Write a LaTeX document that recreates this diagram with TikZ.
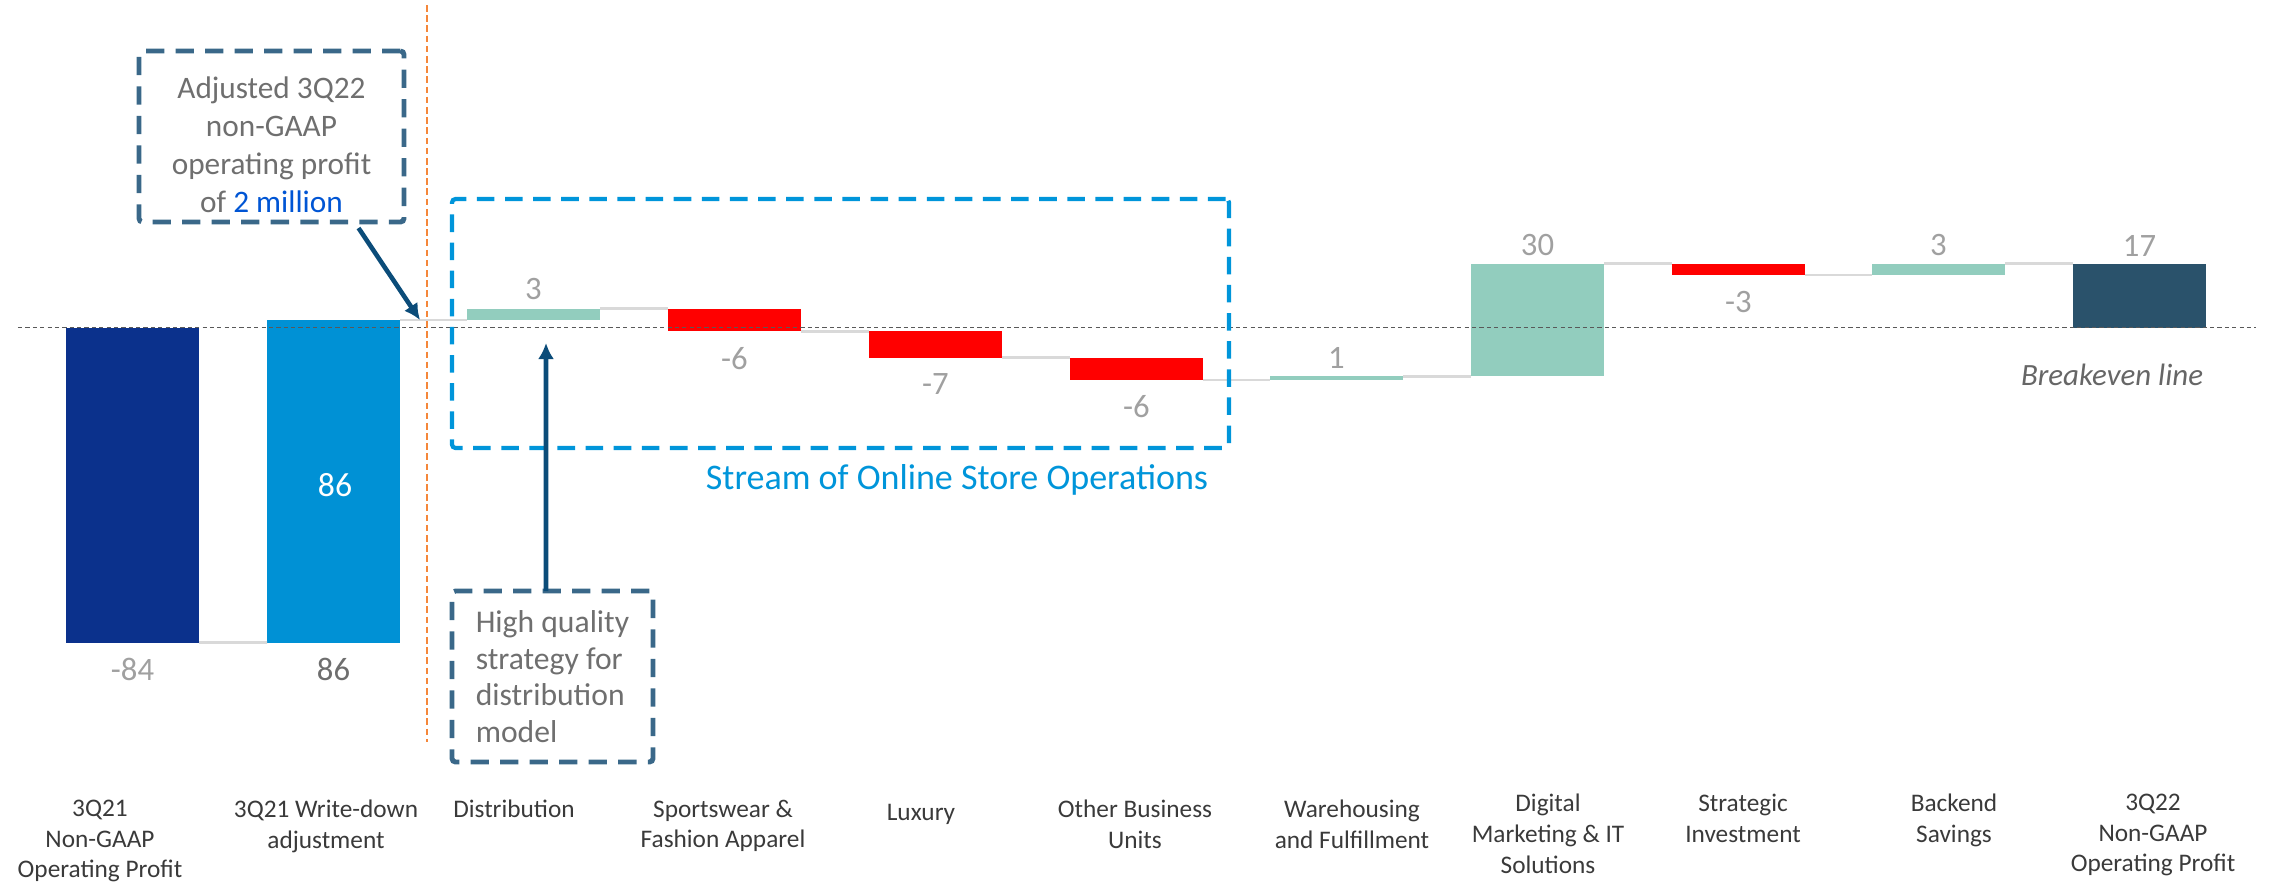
\documentclass[tikz,border=0pt]{standalone}
\usepackage{fontspec}
\setmainfont{Carlito}
\usepackage{xcolor}
\usepackage{tikz}
\usetikzlibrary{calc}
\usetikzlibrary{arrows.meta}
\usetikzlibrary{positioning}
\tikzset{>={Latex[length=4.6pt,width=4.6pt]}}
\definecolor{barnavy}{HTML}{0B318C}
\definecolor{barblue}{HTML}{0091D5}
\definecolor{bargreen}{HTML}{92CDBE}
\definecolor{barred}{HTML}{FF0000}
\definecolor{barslate}{HTML}{2A526B}
\definecolor{linkgray}{HTML}{D9D9D9}
\definecolor{notebox}{HTML}{3A6889}
\definecolor{notegray}{HTML}{6F6F6F}
\definecolor{arrowblue}{HTML}{0B4C79}
\definecolor{streamblue}{HTML}{0095DA}
\definecolor{millionblue}{HTML}{0055D4}
\definecolor{cutorange}{HTML}{F5873A}
\definecolor{valgray}{HTML}{A0A0A0}
\definecolor{valdark}{HTML}{6E6E6E}
\definecolor{catgray}{HTML}{3A3A3A}

\begin{document}
\begin{tikzpicture}[
	bar/.style={inner sep=0pt,outer sep=0pt,minimum width=1.33cm,anchor=north west},
	link/.style={draw=linkgray,line width=0.75pt},
	val/.style={inner sep=0pt,text=valgray,font=\fontsize{9.3}{11}\selectfont},
	cat/.style={inner sep=0pt,anchor=north,align=center,text=catgray,font=\fontsize{7.2}{8.8}\selectfont},
	note/.style={draw=notebox,line width=1.4pt,dash pattern=on 5.2pt off 3.2pt,rounded corners=1pt,inner sep=0pt,outer sep=0pt,text=notegray},
	pointer/.style={->,draw=arrowblue,line width=1.3pt},
]
	\useasboundingbox (0,0) rectangle (22.75,-8.83);
	% bars
	\node[bar,fill=barnavy,minimum height=3.15cm] (q21) at (0.66,-3.275) {};
	\node[bar,fill=barblue,minimum height=3.225cm] (writedown) at (2.67,-3.20) {};
	\node[bar,fill=bargreen,minimum height=0.1125cm] (distrib) at (4.67,-3.0875) {};
	\node[bar,fill=barred,minimum height=0.225cm] (sports) at (6.68,-3.0875) {};
	\node[bar,fill=barred,minimum height=0.2625cm] (luxury) at (8.69,-3.3125) {};
	\node[bar,fill=barred,minimum height=0.225cm] (other) at (10.70,-3.575) {};
	\node[bar,fill=bargreen,minimum height=0.0375cm] (warehouse) at (12.70,-3.7625) {};
	\node[bar,fill=bargreen,minimum height=1.125cm] (digital) at (14.71,-2.6375) {};
	\node[bar,fill=barred,minimum height=0.1125cm] (strategic) at (16.72,-2.6375) {};
	\node[bar,fill=bargreen,minimum height=0.1125cm] (backend) at (18.72,-2.6375) {};
	\node[bar,fill=barslate,minimum height=0.6375cm] (q22) at (20.73,-2.6375) {};
	% steps between bars
	\draw[link] (q21.south east) -- (writedown.south west);
	\draw[link] (writedown.north east) -- (distrib.south west);
	\draw[link] (distrib.north east) -- (sports.north west);
	\draw[link] (sports.south east) -- (luxury.north west);
	\draw[link] (luxury.south east) -- (other.north west);
	\draw[link] (other.south east) -- (warehouse.south west);
	\draw[link] (warehouse.north east) -- (digital.south west);
	\draw[link] (digital.north east) -- (strategic.north west);
	\draw[link] (strategic.south east) -- (backend.south west);
	\draw[link] (backend.north east) -- (q22.north west);
	% breakeven and cut line
	\draw[draw=black!65,line width=0.45pt,dash pattern=on 1.2pt off 0.9pt] (0.18,-3.275) -- (22.56,-3.275);
	\node[inner sep=0pt,text=black!60,font=\fontsize{8.8}{10}\selectfont\itshape] (breakeven) at (21.12,-3.75) {Breakeven line};
	\draw[draw=cutorange,line width=0.6pt,dash pattern=on 1.9pt off 1pt] (4.27,-0.05) -- (4.27,-7.42);
	% values
	\node[val,below=0.15cm of q21] (q21 val) {-84};
	\node[val,text=valdark,below=0.15cm of writedown] (writedown val) {86};
	\node[val,text=white,font=\fontsize{9.6}{11}\selectfont] (writedown in) at (3.35,-4.85) {86};
	\node[val,above=0.08cm of distrib] (distrib val) {3};
	\node[val,below=0.15cm of sports] (sports val) {-6};
	\node[val,below=0.15cm of luxury] (luxury val) {-7};
	\node[val,below=0.15cm of other] (other val) {-6};
	\node[val,above=0.07cm of warehouse] (warehouse val) {1};
	\node[val,above=0.07cm of digital] (digital val) {30};
	\node[val,below=0.16cm of strategic] (strategic val) {-3};
	\node[val,above=0.07cm of backend] (backend val) {3};
	\node[val,above=0.07cm of q22] (q22 val) {17};
	% categories
	\node[cat] (q21 lbl) at (1.00,-7.99) {3Q21\\Non-GAAP\\Operating Profit};
	\node[cat] (writedown lbl) at (3.26,-7.99) {3Q21 Write-down\\adjustment};
	\node[cat] (distrib lbl) at (5.14,-7.99) {Distribution};
	\node[cat] (sports lbl) at (7.23,-7.99) {Sportswear \&\\Fashion Apparel};
	\node[cat] (luxury lbl) at (9.21,-8.04) {Luxury};
	\node[cat] (other lbl) at (11.35,-7.99) {Other Business\\Units};
	\node[cat] (warehouse lbl) at (13.52,-7.99) {Warehousing\\and Fulfillment};
	\node[cat] (digital lbl) at (15.48,-7.93) {Digital\\Marketing \& IT\\Solutions};
	\node[cat] (strategic lbl) at (17.43,-7.93) {Strategic\\Investment};
	\node[cat] (backend lbl) at (19.54,-7.93) {Backend\\Savings};
	\node[cat] (q22 lbl) at (21.53,-7.93) {3Q22\\Non-GAAP\\Operating Profit};
	% callouts
	\node[draw=streamblue,line width=1.2pt,dash pattern=on 5pt off 3pt,rounded corners=1pt,inner sep=0pt,outer sep=0pt,minimum width=7.77cm,minimum height=2.49cm,anchor=north west] (stream box) at (4.52,-1.99) {};
	\node[inner sep=0pt,text=streamblue,font=\fontsize{10.25}{12}\selectfont] (stream) at (9.57,-4.80) {Stream of Online Store Operations};
	\node[note,align=center,minimum width=2.65cm,minimum height=1.71cm,font=\fontsize{8.9}{10.85}\selectfont] (adjusted) at (2.715,-1.365) {\rule{0pt}{10.7pt}Adjusted 3Q22\\non-GAAP\\operating profit\\of \textcolor{millionblue}{2 million}};
	\node[note,align=left,minimum width=2.01cm,minimum height=1.71cm,font=\fontsize{9}{10.4}\selectfont] (quality) at (5.525,-6.765) {High quality\\strategy for\\distribution\\model};
	\coordinate (adjusted tip) at (4.20,-3.20);
	\coordinate (distrib tip) at (5.46,-3.43);
	\draw[pointer] ([xshift=0.87cm,yshift=-0.06cm]adjusted.south) -- (adjusted tip);
	\draw[pointer] ([xshift=-0.065cm]quality.north) -- (distrib tip);
\end{tikzpicture}
\end{document}
